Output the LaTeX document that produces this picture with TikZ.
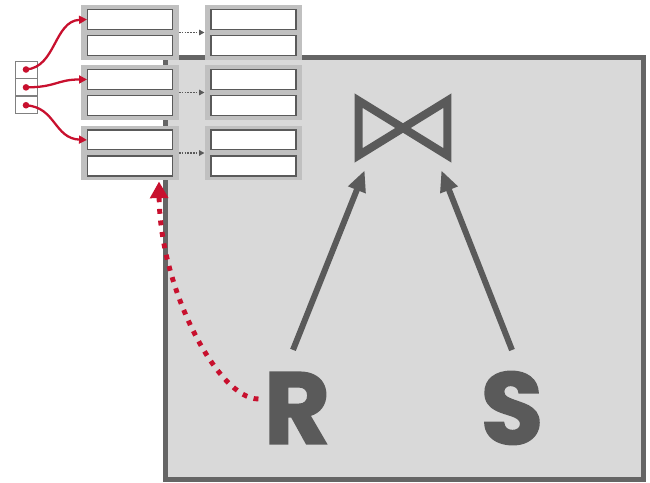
\documentclass[tikz,border=0pt]{standalone}
\usepackage{fontspec}
\newfontfamily\relfont{Poppins}[BoldFeatures={FakeBold=1.6}]
\usetikzlibrary{arrows.meta,positioning}
\definecolor{opgray}{HTML}{5A5A5A}
\definecolor{framegray}{HTML}{656565}
\definecolor{panel}{HTML}{D9D9D9}
\definecolor{pagegray}{HTML}{C0C0C0}
\definecolor{hashred}{HTML}{C8102E}

\begin{document}
\begin{tikzpicture}[x=0.02cm,y=-0.02cm,>=Triangle,
  page/.style={fill=pagegray,minimum width=1.96cm,minimum height=1.1cm,inner sep=0pt,outer sep=0pt},
  slot/.style={draw=opgray,line width=0.6pt,fill=white,minimum width=1.7cm,minimum height=0.4cm,inner sep=0pt},
  cell/.style={draw=gray,line width=0.5pt,fill=white,minimum width=0.44cm,minimum height=0.34cm,inner sep=0pt},
  ptr/.style={hashred,line width=1.3pt,-{Triangle[length=4.5pt,width=4.5pt]}},
  chain/.style={opgray,line width=0.9pt,dash pattern=on 0.9pt off 0.7pt,-{Triangle[length=3pt,width=3pt]}},
  flow/.style={opgray,line width=3.4pt,-{Triangle[length=12pt,width=10pt]}},
  probe/.style={hashred,line width=2.8pt,dash pattern=on 2.8pt off 3.8pt,-{Triangle[length=9.5pt,width=10pt]}},
  rel/.style={text=opgray,font=\relfont\bfseries\fontsize{58}{58}\selectfont,inner sep=0pt}]
\useasboundingbox (0,0) rectangle (650,483);

% operator panel
\draw[framegray,line width=2.83pt,fill=panel] (165.5,57.5) rectangle (643.5,479.5);

% hash table pages and their overflow chains
\foreach \r/\y in {1/32.5,2/92.5,3/153}{
  \node[page] (p\r1) at (130,\y) {};
  \node[page] (p\r2) at (253.5,\y) {};
  \foreach \c in {1,2}{
    \node[slot,above=0.05cm of p\r\c.center] (s\r\c-top) {};
    \node[slot,below=0.05cm of p\r\c.center] (s\r\c-bot) {};
  }
  \draw[chain] (p\r1.east) -- (p\r2.west);
}

% bucket directory
\node[cell] (h1) at (26,69.5) {};
\node[cell,below=0pt of h1] (h2) {};
\node[cell,below=0pt of h2] (h3) {};
\foreach \i in {1,2,3}
  \fill[hashred] (h\i.center) circle (3.3);
\draw[ptr] (h1.center) .. controls +(30,-2) and +(-33,1.5) .. (s11-top.west);
\draw[ptr] (h2.center) .. controls +(30,0) and +(-30,0) .. (s21-top.west);
\draw[ptr] (h3.center) .. controls +(30,2) and +(-33,-1.5) .. (s31-top.west);

% join operator
\node[minimum width=1.76cm,minimum height=1.08cm,inner sep=0pt] (join) at (403,128) {};
\draw[opgray,line width=4.6pt,line join=miter] (join.north west) -- (join.south east)
  -- (join.north east) -- (join.south west) -- cycle;

\node[rel] (R) at (297,408) {R};
\node[rel] (S) at (512,408) {S};
\draw[flow] ([shift={(-4,-22)}]R.north) -- ([shift={(6,15)}]join.south west);
\draw[flow] ([shift={(0,-21)}]S.north) -- ([shift={(-6,15)}]join.south east);

% build side probes the table
\draw[probe] ([shift={(-5,-9)}]R.west) .. controls +(-40,0) and +(1,108) .. ([shift={(29,1)}]p31.south);
\end{tikzpicture}
\end{document}
